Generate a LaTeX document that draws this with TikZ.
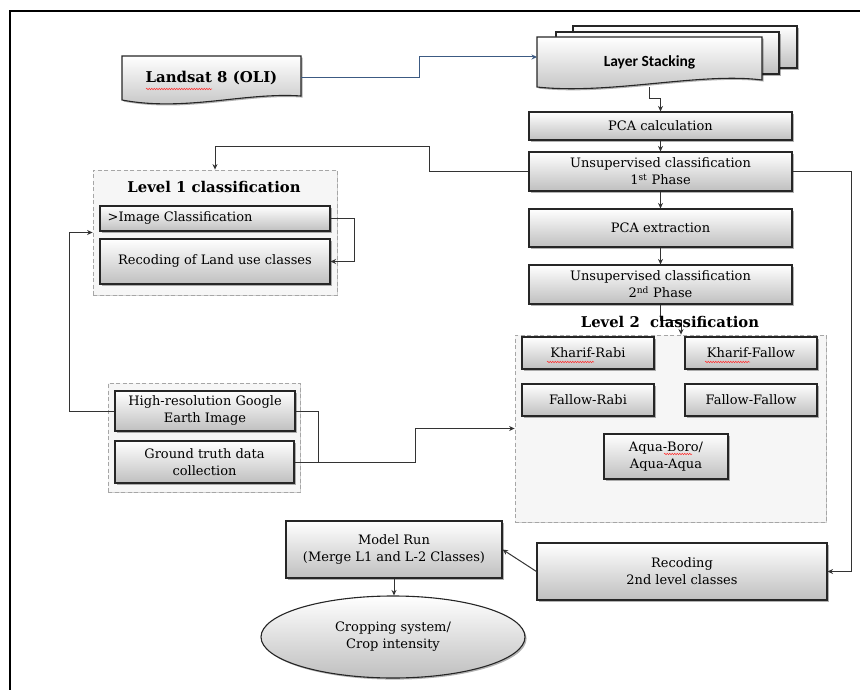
\documentclass[tikz,border=0pt]{standalone}
\usepackage{fontspec}
\setmainfont{DejaVu Serif}
\newfontfamily\calib{Carlito}
\usetikzlibrary{shapes.geometric,arrows.meta,shadows,decorations.pathmorphing,calc}
\definecolor{steel}{RGB}{60,90,130}
\begin{document}
\begin{tikzpicture}[x=1pt,y=-1pt,
  box/.style={draw=black!85, line width=1.1pt, top color=white, bottom color=gray!50,
    drop shadow={shadow xshift=1.6pt, shadow yshift=-1.6pt, fill=black, opacity=0.3},
    inner sep=0pt, align=center, font=\fontsize{13}{17}\selectfont},
  grp/.style={draw=gray!70, dash pattern=on 4pt off 2.5pt, line width=0.8pt, fill=gray!7,
    drop shadow={shadow xshift=1.3pt, shadow yshift=-1.3pt, fill=black, opacity=0.18}, inner sep=0pt},
  page/.style={draw=black!85, line width=1.1pt, top color=white, bottom color=gray!50,
    drop shadow={shadow xshift=1.6pt, shadow yshift=-1.6pt, fill=black, opacity=0.3}},
  arr/.style={-{Stealth[length=5.5pt,width=5pt]}, draw=black!80, line width=1pt},
  ln/.style={draw=black!80, line width=1pt},
  arrblue/.style={-{Stealth[length=5.5pt,width=5pt]}, draw=steel, line width=1pt},
  ttl/.style={font=\bfseries\fontsize{14.8}{17}\selectfont},
  spell/.style={draw=red!80, line width=0.5pt, decorate, decoration={snake, amplitude=0.8pt, segment length=2.5pt}}
]
\useasboundingbox (0,0) rectangle (860,690);
% outer frame
\draw[line width=1.6pt] (10,11) rectangle (880,710);

% groups
\node[grp, minimum width=244, minimum height=125] (lv1) at (215,232.5) {};
\node[grp, minimum width=311, minimum height=187] (lv2) at (670.5,428.5) {};
\node[grp, minimum width=192, minimum height=109] (gtg) at (204,437.5) {};

% Landsat document shape
\path[page] (122,56) -- (301,56) -- (301,96) .. controls (245,92) and (185,112) .. (122,100) -- cycle;
\node[font=\bfseries\fontsize{14.9}{17}\selectfont, minimum width=179, minimum height=44, inner sep=0pt] (ls) at (211.5,78) {Landsat 8 (OLI)};
\draw[spell] (146,89) -- (212,89);

% Layer stacking multi-document
\path[page] (573,26) rectangle (797,68);
\path[page] (556,32) rectangle (779,74);
\path[page] (537,37) -- (762,37) -- (762,80) .. controls (700,72) and (610,95) .. (537,87) -- cycle;
\node[font=\calib\bfseries\fontsize{15.5}{18}\selectfont, minimum width=225, minimum height=50, inner sep=0pt] (lst) at (649.5,62) {Layer Stacking};
\coordinate (lstin) at (537,57);

% right column
\node[box, minimum width=263, minimum height=28] (pcac) at (660.5,126) {PCA calculation};
\node[box, minimum width=263, minimum height=39] (uns1) at (660.5,171.5) {Unsupervised classification\\1\textsuperscript{st} Phase};
\node[box, minimum width=263, minimum height=38] (pcae) at (660.5,228) {PCA extraction};
\node[box, minimum width=263, minimum height=39] (uns2) at (660.5,284.5) {Unsupervised classification\\2\textsuperscript{nd} Phase};

% level 2 boxes
\node[box, minimum width=132, minimum height=32] (kr) at (588,353) {Kharif-Rabi};
\node[box, minimum width=132, minimum height=32] (kf) at (751,353) {Kharif-Fallow};
\node[box, minimum width=132, minimum height=32] (fr) at (588,400) {Fallow-Rabi};
\node[box, minimum width=132, minimum height=32] (ff) at (751,400) {Fallow-Fallow};
\node[box, minimum width=124, minimum height=45] (aq) at (666,456.5) {Aqua-Boro/\\Aqua-Aqua};
\draw[spell] (547,362) -- (594,362);
\draw[spell] (705,362) -- (750,362);
\draw[spell] (664,454) -- (692,454);

% bottom
\node[box, minimum width=290, minimum height=57] (rec2) at (682,571.5) {Recoding\\2nd level classes};
\node[box, minimum width=216, minimum height=57] (model) at (394,549.5) {Model Run\\(Merge L1 and L-2 Classes)};
\node[box, ellipse, minimum width=264, minimum height=82] (ell) at (393,637) {Cropping system/\\Crop intensity};

% level 1
\node[ttl] (t1) at (214,187) {Level 1 classification};
\node[box, minimum width=230, minimum height=25] (imgc) at (215,218.5) {};
\node[anchor=west, inner sep=0pt, font=\fontsize{13}{17}\selectfont] (imgct) at ($(imgc.west)+(8,0)$) {>Image Classification};
\node[box, minimum width=230, minimum height=45] (recl) at (215,261.5) {Recoding of Land use classes};

% ground truth
\node[box, minimum width=180, minimum height=40] (hires) at (205,411) {High-resolution Google\\Earth Image};
\node[box, minimum width=179, minimum height=42] (gtd) at (204.5,462) {Ground truth data\\collection};

% connectors
\coordinate (c2) at (681,0);
\coordinate (c3) at (429,147);
\draw[arrblue] (ls.east) -- ++(118,0) |- (lstin);
\draw[arr] (lst.south) -- ++(0,11) -| (pcac.north);
\draw[arr] (pcac.south) -- (uns1.north);
\draw[arr] (uns1.south) -- (pcae.north);
\draw[arr] (pcae.south) -- (uns2.north);
\draw[arr] (uns2.south) -- ++(0,16) -| (c2 |- lv2.north);
\draw[arr] (uns1.west) -- (c3 |- uns1.west) -- (c3) -| (lv1.north);
\draw[arr] (uns1.east) -- ++(59,0) |- (rec2.east);
\draw[arr] (rec2.west) -- (model.east);
\draw[arr] (model.south) -- (model.south |- ell.north);
\draw[arr] (imgc.east) -- ++(24,0) |- (recl.east);
\draw[arr] (hires.west) -- ++(-45,0) |- (lv1.west);
\draw[ln] (hires.east) -- ++(23,0) |- (gtd.east);
\draw[arr] (gtd.east) -- ++(121,0) |- (lv2.west);

\node[ttl] (t2) at (670,322) {Level 2\ \ classification};
\end{tikzpicture}
\end{document}
